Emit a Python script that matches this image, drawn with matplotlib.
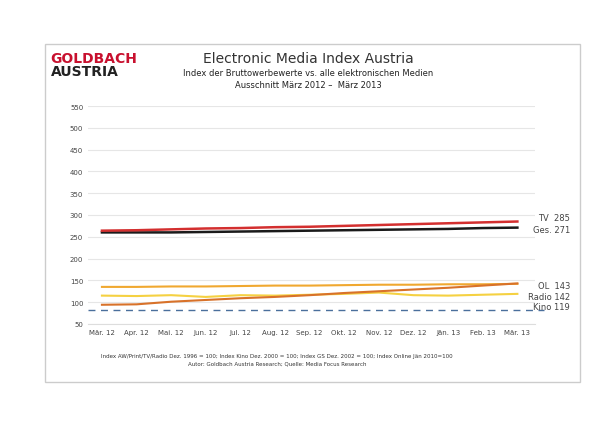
import matplotlib
matplotlib.use("Agg")
import matplotlib.pyplot as plt
from matplotlib.patches import Rectangle

months = ["Mär. 12","Apr. 12","Mai. 12","Jun. 12","Jul. 12","Aug. 12","Sep. 12","Okt. 12","Nov. 12","Dez. 12","Jän. 13","Feb. 13","Mär. 13"]
tv   = [264,265,267,269,270,272,273,275,277,279,281,283,285]
ges  = [260,260,260,261,262,263,264,265,266,267,268,270,271]
ol   = [94,95,101,105,109,112,116,121,125,129,133,138,143]
radio= [135,135,136,136,137,138,138,139,140,140,141,141,142]
kino = [115,114,116,112,116,115,117,119,122,116,115,117,119]
baseline = 83
labels = ["TV  285","Ges. 271","OL  143","Radio 142","Kino 119"]

fig = plt.figure(figsize=(6.16,4.35), dpi=100)
fig.patches.append(Rectangle((45/616,1-383/435),535/616,338/435,transform=fig.transFigure,fill=False,ec="#cccccc",lw=1))
ax = fig.add_axes([0.143,0.253,0.725,0.501])
x = range(len(months))
ax.axhline(baseline,xmin=0,xmax=1.02,clip_on=False,color="#4a6f9c",ls=(0,(5,4)),lw=1)
ax.plot(x,kino,color="#f5d142",lw=1.5)
ax.plot(x,radio,color="#f0a830",lw=1.5)
ax.plot(x,ol,color="#d8722a",lw=1.5)
ax.plot(x,ges,color="#1a1a1a",lw=1.8)
ax.plot(x,tv,color="#d32f2f",lw=1.8)
ax.set_xlim(-0.4,12.5)
ax.set_ylim(50,550)
ax.set_yticks(range(50,551,50))
ax.set_xticks(list(x)); ax.set_xticklabels(months)
ax.tick_params(labelsize=5,colors="#444",length=0)
ax.grid(axis="y",color="#e6e6e6",lw=0.8)
for s in ax.spines.values(): s.set_visible(False)
ax.spines["bottom"].set_visible(True); ax.spines["bottom"].set_color("#dddddd")
ys_px = [219,231,287,298,308]
for lab,yp in zip(labels,ys_px):
    fig.text(570/616,1-yp/435,lab,ha="right",va="center",fontsize=6,color="#444")
fig.text(0.082,0.855,"GOLDBACH",color="#c8102e",fontsize=10,fontweight="bold")
fig.text(0.082,0.825,"AUSTRIA",color="#222",fontsize=10,fontweight="bold")
fig.text(0.5,0.855,"Electronic Media Index Austria",ha="center",fontsize=10,color="#333")
fig.text(0.5,0.826,"Index der Bruttowerbewerte vs. alle elektronischen Medien",ha="center",fontsize=6,color="#222")
fig.text(0.5,0.798,"Ausschnitt März 2012 –  März 2013",ha="center",fontsize=6,color="#222")
fig.text(0.45,0.178,"Index AW/Print/TV/Radio Dez. 1996 = 100; Index Kino Dez. 2000 = 100; Index GS Dez. 2002 = 100; Index Online Jän 2010=100",ha="center",fontsize=4,color="#333")
fig.text(0.45,0.16,"Autor: Goldbach Austria Research; Quelle: Media Focus Research",ha="center",fontsize=4,color="#333")
fig.savefig("out.png",dpi=100)
